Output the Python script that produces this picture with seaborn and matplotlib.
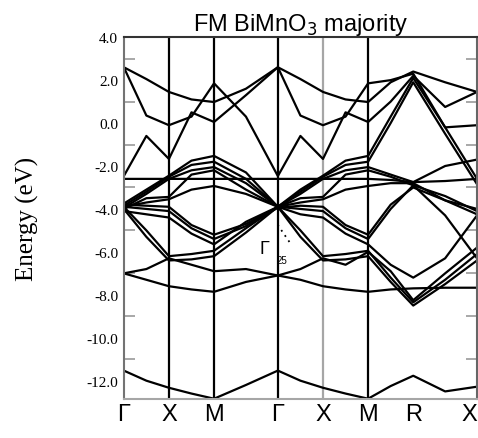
import numpy as np
import pandas as pd
import seaborn as sns
import matplotlib.pyplot as plt

# k-path: Gamma-X-M-Gamma-X-M-R-X (simple cubic), sampled at the symmetry points and midpoints
k_path = [0.0, 0.25, 0.5, 0.75, 1.0, 1.3535, 1.707, 1.957, 2.207, 2.457, 2.707, 2.957, 3.207, 3.5605, 3.914]
sym_k = [0.0, 0.5, 1.0, 1.707, 2.207, 2.707, 3.207, 3.914]
sym_labels = ['Γ', 'X', 'M', 'Γ', 'X', 'M', 'R', 'X']

# band energies (eV), one value per k_path point
upper_bands = [
    [2.6, 2.05, 1.45, 1.1, 0.98, 1.6, 2.6, 2.05, 1.45, 1.1, 0.98, 1.9, 2.4, 1.9, 1.45],
    [2.6, 0.35, -0.1, 0.3, 1.85, 0.3, -2.47, -0.6, -1.67, 0.5, 0.05, 1.0, 2.2, 0.75, 1.45],
    [-2.47, -0.6, -1.67, 0.5, 0.05, 1.3, 2.6, 0.35, -0.1, 0.3, 1.85, 2.0, 2.3, -0.2, -0.1],
]
dome_bands = [
    [-3.75, -3.1, -2.45, -1.75, -1.53, -2.3, -3.9, -3.1, -2.45, -1.75, -1.53, 0.3, 2.1, -0.2, -2.6],
    [-3.85, -3.2, -2.5, -1.95, -1.8, -2.6, -3.9, -3.2, -2.5, -1.95, -1.8, 0.0, 1.9, -0.5, -2.85],
    [-3.95, -3.3, -2.6, -2.2, -2.05, -2.8, -3.9, -3.3, -2.6, -2.2, -2.05, -2.4, -2.75, -2.0, -1.7],
    [-4.0, -3.5, -3.44, -2.4, -2.2, -3.1, -3.9, -3.5, -3.44, -2.4, -2.2, -2.5, -2.9, -3.4, -4.1],
    [-3.9, -3.7, -3.55, -3.1, -2.93, -3.3, -3.9, -3.7, -3.55, -3.1, -2.93, -2.8, -2.8, -3.6, -4.25],
    [-2.6, -2.6, -2.6, -2.6, -2.6, -2.6, -2.6, -2.6, -2.6, -2.6, -2.6, -2.65, -2.75, -2.7, -2.6],
]
mid_bands = [
    [-3.9, -4.0, -4.1, -4.9, -5.4, -4.8, -3.9, -4.0, -4.1, -4.9, -5.4, -4.0, -2.9, -4.3, -6.3],
    [-4.1, -4.25, -4.4, -5.15, -5.65, -4.6, -3.9, -4.25, -4.4, -5.15, -5.65, -6.6, -7.2, -6.3, -4.3],
    [-3.8, -3.85, -3.9, -4.75, -5.2, -4.7, -3.95, -3.85, -3.9, -4.75, -5.2, -3.8, -3.0, -3.6, -4.0],
    [-3.9, -5.0, -6.2, -6.1, -5.95, -4.9, -3.9, -5.0, -6.2, -6.1, -5.95, -7.2, -8.35, -7.3, -6.1],
    [-4.0, -5.3, -6.4, -6.35, -6.2, -5.1, -3.9, -5.3, -6.4, -6.35, -6.2, -7.4, -8.5, -7.5, -6.4],
    [-7.0, -6.8, -6.3, -6.6, -6.9, -6.8, -7.1, -6.8, -6.3, -6.6, -6.0, -6.9, -8.25, -7.0, -5.8],
    [-7.0, -7.3, -7.6, -7.75, -7.86, -7.4, -7.1, -7.3, -7.6, -7.75, -7.86, -7.75, -7.7, -7.67, -7.67],
]
low_band = [-11.53, -12.0, -12.33, -12.6, -12.84, -12.2, -11.53, -12.0, -12.33, -12.6, -12.84, -12.25, -11.77, -12.5, -12.28]

all_bands = upper_bands + dome_bands + mid_bands + [low_band]
rows = []
for b, energies in enumerate(all_bands):
    for k, e in zip(k_path, energies):
        rows.append((b, k, e))
df = pd.DataFrame(rows, columns=['band', 'k', 'E'])

sns.set_style('white')
plt.rcParams['font.family'] = ['Liberation Sans', 'DejaVu Sans']
plt.rcParams['text.color'] = 'black'
plt.rcParams['xtick.color'] = 'black'
plt.rcParams['ytick.color'] = 'black'
plt.rcParams['axes.labelcolor'] = 'black'

fig = plt.figure(figsize=(4.78, 4.39), dpi=100)
ax = fig.add_axes([0.259, 0.089, 0.739, 0.824])

sns.lineplot(data=df, x='k', y='E', units='band', estimator=None, sort=False,
             color='black', lw=1.6, ax=ax, legend=False)

for k in [0.5, 1.0, 1.707, 2.707]:
    ax.axvline(k, color='black', lw=1.6, zorder=0)
ax.axvline(2.207, color='0.65', lw=1.6, zorder=0)

ax.set_xlim(0, 3.914)
ax.set_ylim(-12.85, 4.0)
ax.set_xticks(sym_k)
ax.set_xticklabels(sym_labels, fontsize=17)
ax.get_xticklabels()[-1].set_horizontalalignment('right')
ax.set_yticks(np.arange(-12, 5, 2))
ax.set_yticklabels([f'{v:.1f}' for v in np.arange(-12, 5, 2)], family='Liberation Serif', fontsize=11)
ax.set_yticks(np.arange(-11, 4, 2), minor=True)
ax.tick_params(axis='x', length=0, pad=3, labelcolor='black')
ax.tick_params(axis='y', which='major', direction='out', length=3, width=1, color='0.3', pad=1, labelcolor='black')
ax.tick_params(axis='y', which='minor', direction='in', length=8, width=1.2, color='0.6', left=True, right=True)

ax.set_xlabel('')
ax.set_ylabel('Energy (eV)', family='Liberation Serif', fontsize=18, color='black')
ax.yaxis.set_label_coords(-0.24, 0.5)
ax.set_title('FM BiMnO$_3$ majority', fontsize=17, pad=5, color='black')

ax.spines['left'].set_color('0.45')
ax.spines['bottom'].set_color('0.65')
ax.spines['top'].set_color('0.2')
ax.spines['right'].set_color('0.4')
for s in ax.spines.values():
    s.set_linewidth(1.5)

# Gamma_25 label with dotted pointer
ax.text(1.56, -5.86, 'Γ', fontsize=13, ha='center', va='center', color='black')
ax.text(1.75, -6.4, '25', fontsize=7, ha='center', va='center', color='black')
ax.plot([1.705, 1.85], [-4.74, -5.63], ls=(0, (1, 2.5)), color='black', lw=1.3)

fig.savefig('out.png', dpi=100)
